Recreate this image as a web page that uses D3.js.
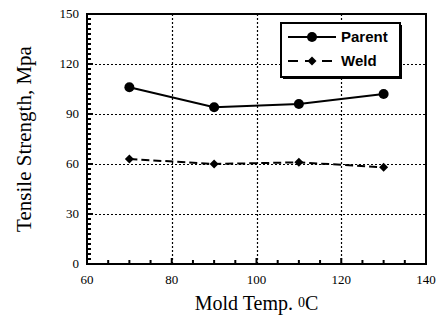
<!DOCTYPE html>
<html>
<head>
<meta charset="utf-8">
<script src="https://cdn.jsdelivr.net/npm/d3@7"></script>
<style>
  body { margin: 0; background: #fff; }
  svg { display: block; }
</style>
</head>
<body>
<script>
var temps = [70, 90, 110, 130];
var parent = [106, 94, 96, 102];
var weld = [63, 60, 61, 58];
var xTicks = [60, 80, 100, 120, 140];
var yTicks = [0, 30, 60, 90, 120, 150];

var width = 438, height = 324;
var margin = {left: 87, right: 12, top: 14, bottom: 60};

var svg = d3.select("body").append("svg")
    .attr("width", width)
    .attr("height", height);

var x = d3.scaleLinear().domain([60, 140]).range([margin.left, width - margin.right]);
var y = d3.scaleLinear().domain([0, 150]).range([height - margin.bottom, margin.top]);

// grid
var grid = svg.append("g").attr("stroke", "#000").attr("stroke-width", 1.2).attr("stroke-dasharray", "2,2");
grid.selectAll(".gx").data(xTicks.slice(1, -1)).enter().append("line")
    .attr("x1", d => Math.round(x(d)) + 0.5).attr("x2", d => Math.round(x(d)) + 0.5)
    .attr("y1", y(0)).attr("y2", y(150));
grid.selectAll(".gy").data(yTicks.slice(1, -1)).enter().append("line")
    .attr("x1", x(60)).attr("x2", x(140))
    .attr("y1", d => Math.round(y(d)) + 0.5).attr("y2", d => Math.round(y(d)) + 0.5);

// minor ticks pointing inward
var ticks = svg.append("g").attr("stroke", "#000").attr("stroke-width", 2);
ticks.selectAll(".mx").data(d3.range(60, 141, 5)).enter().append("line")
    .attr("x1", d => x(d)).attr("x2", d => x(d))
    .attr("y1", y(0)).attr("y2", d => y(0) - (d % 20 == 0 ? 6 : 4));
ticks.selectAll(".my").data(d3.range(0, 151, 3)).enter().append("line")
    .attr("y1", d => y(d)).attr("y2", d => y(d))
    .attr("x1", x(60)).attr("x2", d => x(60) + (d % 30 == 0 ? 6 : 4));

// frame
svg.append("rect")
    .attr("x", x(60)).attr("y", y(150))
    .attr("width", x(140) - x(60)).attr("height", y(0) - y(150))
    .attr("fill", "none").attr("stroke", "#000").attr("stroke-width", 2);

// tick labels
svg.append("g").selectAll("text").data(xTicks).enter().append("text")
    .attr("x", d => x(d)).attr("y", y(0) + 20)
    .attr("text-anchor", "middle")
    .attr("font-family", "Liberation Serif, serif").attr("font-size", 13)
    .text(d => d);
svg.append("g").selectAll("text").data(yTicks).enter().append("text")
    .attr("x", x(60) - 8).attr("y", d => y(d) + 4)
    .attr("text-anchor", "end")
    .attr("font-family", "Liberation Serif, serif").attr("font-size", 13)
    .text(d => d);

// axis titles
svg.append("text")
    .attr("transform", "translate(31," + ((y(0) + y(150)) / 2) + ") rotate(-90)")
    .attr("text-anchor", "middle")
    .attr("font-family", "Liberation Serif, serif").attr("font-size", 21)
    .text("Tensile Strength, Mpa");
var xt = svg.append("text")
    .attr("x", (x(60) + x(140)) / 2).attr("y", 310)
    .attr("text-anchor", "middle")
    .attr("font-family", "Liberation Serif, serif").attr("font-size", 20);
xt.append("tspan").text("Mold Temp. ");
xt.append("tspan").attr("font-size", 14).attr("dy", -3).text("0");
xt.append("tspan").attr("dy", 3).text("C");

// series
var pdata = temps.map((t, i) => ({t: t, v: parent[i]}));
var wdata = temps.map((t, i) => ({t: t, v: weld[i]}));
var line = d3.line().x(d => x(d.t)).y(d => y(d.v));

svg.append("path").datum(pdata).attr("d", line)
    .attr("fill", "none").attr("stroke", "#000").attr("stroke-width", 2);
svg.selectAll(".pp").data(pdata).enter().append("circle")
    .attr("cx", d => x(d.t)).attr("cy", d => y(d.v)).attr("r", 5).attr("fill", "#000");

svg.append("path").datum(wdata).attr("d", line)
    .attr("fill", "none").attr("stroke", "#000").attr("stroke-width", 2)
    .attr("stroke-dasharray", "8,4");
var diamond = "M0,-4.5L4.5,0L0,4.5L-4.5,0Z";
svg.selectAll(".wp").data(wdata).enter().append("path")
    .attr("d", diamond)
    .attr("transform", d => "translate(" + x(d.t) + "," + y(d.v) + ")")
    .attr("fill", "#000");

// legend
var lg = svg.append("g");
lg.append("rect").attr("x", 283).attr("y", 25).attr("width", 119).attr("height", 54)
    .attr("fill", "#000");
lg.append("rect").attr("x", 281).attr("y", 23).attr("width", 119).attr("height", 54)
    .attr("fill", "#fff").attr("stroke", "#000").attr("stroke-width", 2);
lg.append("line").attr("x1", 288).attr("x2", 336).attr("y1", 37).attr("y2", 37)
    .attr("stroke", "#000").attr("stroke-width", 2);
lg.append("circle").attr("cx", 312).attr("cy", 37).attr("r", 5);
lg.append("line").attr("x1", 288).attr("x2", 336).attr("y1", 61).attr("y2", 61)
    .attr("stroke", "#000").attr("stroke-width", 2).attr("stroke-dasharray", "10,7");
lg.append("path").attr("d", diamond).attr("transform", "translate(312,61)");
lg.append("text").attr("x", 341).attr("y", 42)
    .attr("font-family", "Liberation Sans, Arial, sans-serif").attr("font-size", 15).attr("font-weight", "bold")
    .text("Parent");
lg.append("text").attr("x", 341).attr("y", 66)
    .attr("font-family", "Liberation Sans, Arial, sans-serif").attr("font-size", 15).attr("font-weight", "bold")
    .text("Weld");
</script>
</body>
</html>
